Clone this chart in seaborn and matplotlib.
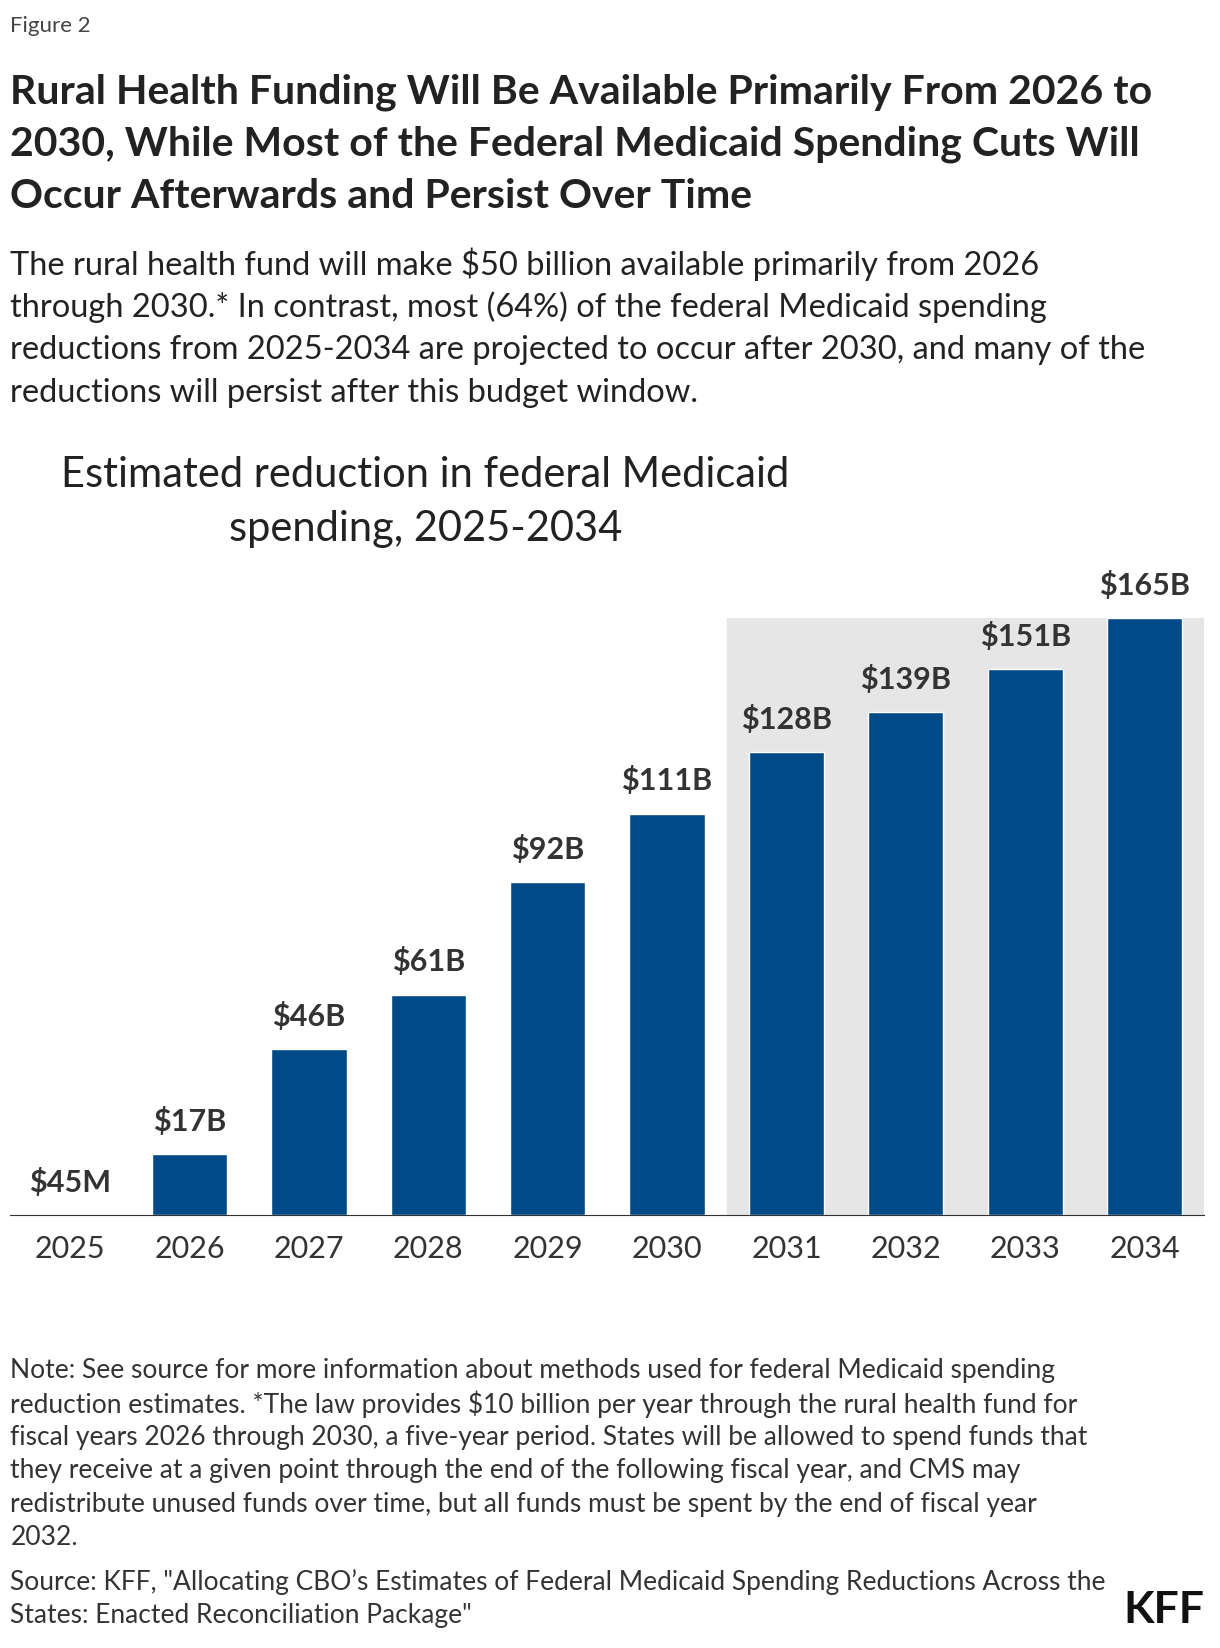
import matplotlib.pyplot as plt
import seaborn as sns
import pandas as pd

years = ["2025", "2026", "2027", "2028", "2029", "2030", "2031", "2032", "2033", "2034"]
values = [0.045, 17, 46, 61, 92, 111, 128, 139, 151, 165]
labels = ["$45M", "$17B", "$46B", "$61B", "$92B", "$111B", "$128B", "$139B", "$151B", "$165B"]

sns.set_style("white")
plt.rcParams["font.family"] = ["Lato", "DejaVu Sans"]

W, H = 1165, 1573
fig = plt.figure(figsize=(12.2, 16.48), dpi=100)

def fx(x):
    return x / W

def fy(y):
    return 1 - y / H

ax = fig.add_axes([fx(10), fy(1160), fx(1150) - fx(10), fy(590) - fy(1160)])
df = pd.DataFrame({"year": years, "value": values})
ax.axvspan(5.5, 9.5, ymin=0, ymax=1, color="#e6e6e6", zorder=0)
sns.barplot(data=df, x="year", y="value", color="#004b87", saturation=1, width=0.63, ax=ax, zorder=2)
ax.set_xlim(-0.5, 9.5)
ax.set_ylim(0, 165)
for i, (v, lab) in enumerate(zip(values, labels)):
    ax.text(i, v + 5, lab, ha="center", va="bottom", fontsize=22, fontweight="bold",
            color="#333333", clip_on=False, zorder=3)
for s in ["top", "right", "left"]:
    ax.spines[s].set_visible(False)
ax.spines["bottom"].set_color("#333333")
ax.set_yticks([])
ax.set_xlabel("")
ax.set_ylabel("")
ax.tick_params(axis="x", labelsize=22, colors="#333333", length=0, pad=14)

c = "#222222"
fig.text(fx(10), fy(25), "Figure 2", fontsize=16, color="#444444", va="center")
title = ["Rural Health Funding Will Be Available Primarily From 2026 to",
         "2030, While Most of the Federal Medicaid Spending Cuts Will",
         "Occur Afterwards and Persist Over Time"]
for i, t in enumerate(title):
    fig.text(fx(10), fy(88 + 50 * i), t, fontsize=29.5, fontweight="bold", color=c, va="center")
sub = ["The rural health fund will make $50 billion available primarily from 2026",
       "through 2030.* In contrast, most (64%) of the federal Medicaid spending",
       "reductions from 2025-2034 are projected to occur after 2030, and many of the",
       "reductions will persist after this budget window."]
for i, t in enumerate(sub):
    fig.text(fx(10), fy(252 + 41 * i), t, fontsize=23.5, color=c, va="center")
fig.text(fx(406), fy(453), "Estimated reduction in federal Medicaid", fontsize=30, color=c,
         ha="center", va="center")
fig.text(fx(406), fy(505), "spending, 2025-2034", fontsize=30, color=c, ha="center", va="center")

notes = ["Note: See source for more information about methods used for federal Medicaid spending",
         "reduction estimates. *The law provides $10 billion per year through the rural health fund for",
         "fiscal years 2026 through 2030, a five-year period. States will be allowed to spend funds that",
         "they receive at a given point through the end of the following fiscal year, and CMS may",
         "redistribute unused funds over time, but all funds must be spent by the end of fiscal year",
         "2032."]
for i, t in enumerate(notes):
    fig.text(fx(10), fy(1308 + 32 * i), t, fontsize=19, color="#333333", va="center")
src = ["Source: KFF, \"Allocating CBO\u2019s Estimates of Federal Medicaid Spending Reductions Across the",
       "States: Enacted Reconciliation Package\""]
for i, t in enumerate(src):
    fig.text(fx(10), fy(1510 + 32 * i), t, fontsize=19, color="#333333", va="center")
fig.text(fx(1150), fy(1537), "KFF", fontsize=32, fontweight="bold", color="#111111",
         ha="right", va="center")

fig.savefig("out.png", dpi=100)
